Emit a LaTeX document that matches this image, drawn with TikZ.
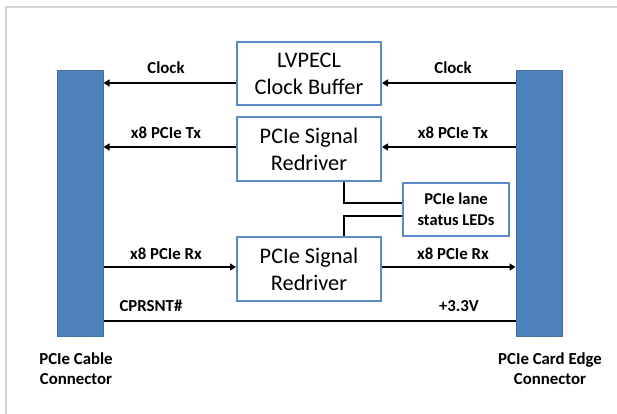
\documentclass[tikz,border=0pt]{standalone}
\usepackage{fontspec}
\setmainfont{Carlito}
\usetikzlibrary{arrows.meta}
\definecolor{barblue}{HTML}{4F81BD}
\definecolor{bardark}{HTML}{41719C}
\definecolor{boxblue}{HTML}{5B8BC6}
\definecolor{framegray}{HTML}{D4D4D4}
\tikzset{
  bar/.style={rectangle, fill=barblue, draw=bardark, line width=1pt, minimum width=46pt, minimum height=265pt, inner sep=0pt},
  blk/.style={rectangle, draw=boxblue, line width=2pt, fill=white, minimum width=144pt, minimum height=63pt, align=center, font=\fontsize{22.3}{27}\selectfont, inner sep=0pt},
  ledbox/.style={rectangle, draw=boxblue, line width=2pt, fill=white, minimum width=106pt, minimum height=53pt, align=center, font=\bfseries\fontsize{16.5}{21}\selectfont, inner sep=0pt},
  lbl/.style={font=\bfseries\fontsize{16.8}{20}\selectfont, inner sep=0pt},
  captext/.style={font=\bfseries\fontsize{16.8}{20}\selectfont, align=center, inner sep=0pt},
  wire/.style={line width=2.3pt, black},
  arr/.style={wire, -{Triangle[length=6pt,width=7pt]}}
}
\begin{document}
\begin{tikzpicture}[x=1pt,y=-1pt]
\useasboundingbox (0,0) rectangle (617,414);
\draw[framegray, line width=2pt] (6,414) -- (6,7) -- (617,7);
% bars
\node[bar] (lbar) at (80,203.5) {};
\node[bar] (rbar) at (539,203.5) {};
% blocks
\node[blk] (clk) at (309,73.5) {LVPECL\\Clock Buffer};
\node[blk, minimum height=64pt] (rd1) at (309,149) {PCIe Signal\\Redriver};
\node[blk, minimum height=64pt] (rd2) at (309,269) {PCIe Signal\\Redriver};
\node[ledbox] (led) at (456,209.5) {PCIe lane\\status LEDs};
% helper coordinates
\coordinate (yclk) at (0,83);
\coordinate (ytx) at (0,147);
\coordinate (yrx) at (0,267);
\coordinate (ypw) at (0,321);
\coordinate (xled) at (344,0);
\coordinate (yled1) at (0,203);
\coordinate (yled2) at (0,216);
% arrows
\draw[arr] (rbar.west |- yclk) -- (clk.east |- yclk);
\draw[arr] (clk.west |- yclk) -- (lbar.east |- yclk);
\draw[arr] (rbar.west |- ytx) -- (rd1.east |- ytx);
\draw[arr] (rd1.west |- ytx) -- (lbar.east |- ytx);
\draw[arr] (lbar.east |- yrx) -- (rd2.west |- yrx);
\draw[arr] (rd2.east |- yrx) -- (rbar.west |- yrx);
\draw[wire] (lbar.east |- ypw) -- (rbar.west |- ypw);
% LED links
\draw[wire] (rd1.south -| xled) |- (led.west |- yled1);
\draw[wire] (rd2.north -| xled) |- (led.west |- yled2);
% labels
\node[lbl] (l1) at (166,68) {Clock};
\node[lbl] (l2) at (453,68) {Clock};
\node[lbl] (l3) at (166,133) {x8 PCIe Tx};
\node[lbl] (l4) at (453,133) {x8 PCIe Tx};
\node[lbl] (l5) at (166,254) {x8 PCIe Rx};
\node[lbl] (l6) at (453,254) {x8 PCIe Rx};
\node[lbl] (l7) at (151,306) {CPRSNT\#};
\node[lbl] (l8) at (459,306) {+3.3V};
\node[captext] (c1) at (76,369) {PCIe Cable\\Connector};
\node[captext] (c2) at (550,369) {PCIe Card Edge\\Connector};
\end{tikzpicture}
\end{document}
